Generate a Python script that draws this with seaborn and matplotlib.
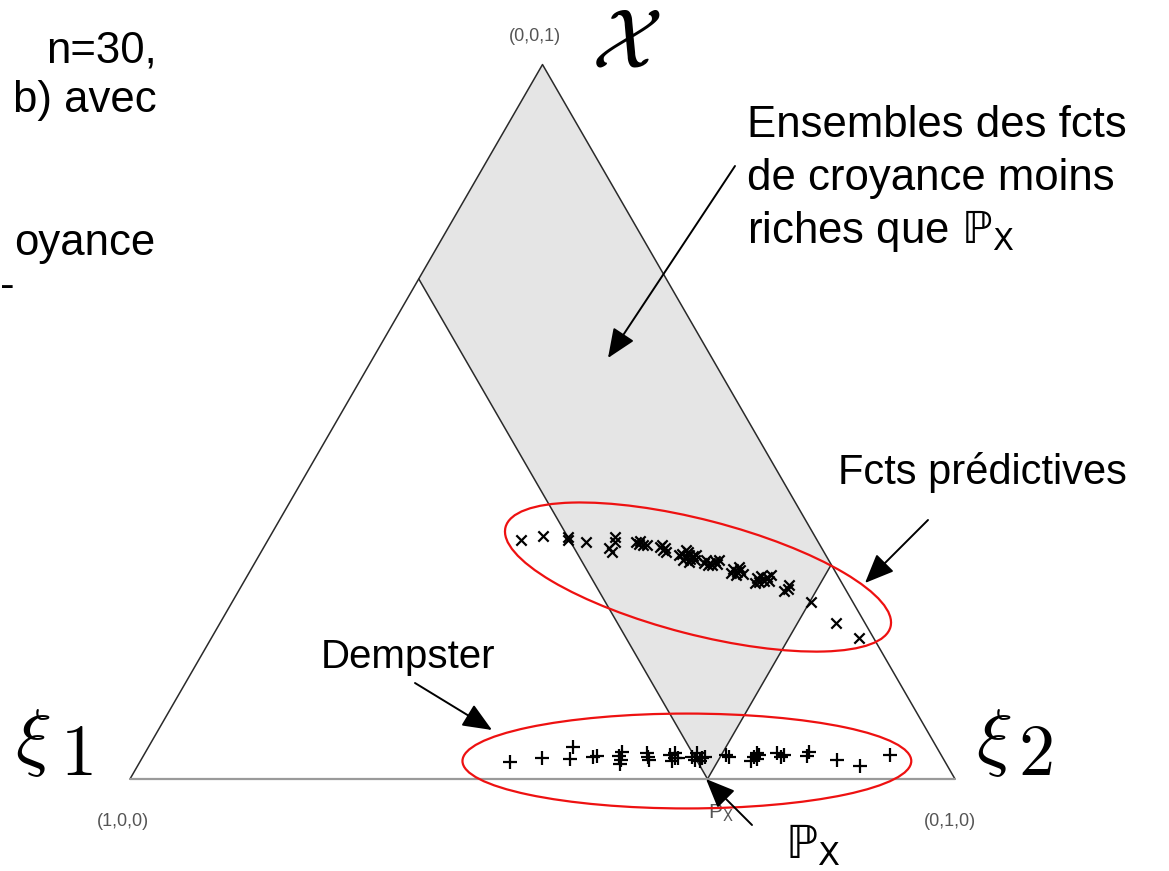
import numpy as np
import pandas as pd
import matplotlib
matplotlib.use("Agg")
import matplotlib.pyplot as plt
from matplotlib.patches import Ellipse, Polygon
from matplotlib.transforms import IdentityTransform
import seaborn as sns

# Predictive belief functions: mass on xi2 and mass on the whole frame X
pred_m2 = [0.306, 0.331, 0.363, 0.362, 0.387, 0.418, 0.422, 0.419, 0.425,
           0.447, 0.452, 0.458, 0.463, 0.453, 0.480, 0.486, 0.491, 0.481, 0.487,
           0.512, 0.518, 0.520, 0.525, 0.517, 0.526, 0.517, 0.531,
           0.509, 0.529, 0.526, 0.513,
           0.545, 0.552, 0.556, 0.556, 0.561, 0.551, 0.561, 0.545,
           0.584, 0.591, 0.593, 0.591, 0.590, 0.600, 0.585,
           0.620, 0.623, 0.630, 0.631, 0.625, 0.634, 0.621, 0.636,
           0.661, 0.663, 0.664, 0.701, 0.746, 0.785]
pred_mX = [0.335, 0.340, 0.335, 0.339, 0.332, 0.339, 0.332, 0.324, 0.318,
           0.332, 0.333, 0.328, 0.328, 0.329, 0.325, 0.321, 0.318, 0.328, 0.324,
           0.315, 0.311, 0.314, 0.308, 0.307, 0.312, 0.318, 0.307,
           0.314, 0.314, 0.304, 0.321,
           0.307, 0.302, 0.305, 0.300, 0.301, 0.300, 0.307, 0.302,
           0.294, 0.290, 0.293, 0.286, 0.297, 0.287, 0.288,
           0.281, 0.284, 0.277, 0.283, 0.276, 0.286, 0.274, 0.277,
           0.263, 0.271, 0.266, 0.248, 0.219, 0.197]

# Dempster belief functions
demp_m2 = [0.449, 0.484, 0.514, 0.519, 0.546, 0.550, 0.577, 0.582, 0.584,
           0.608, 0.612, 0.616, 0.637, 0.645, 0.649, 0.645, 0.666, 0.669,
           0.678, 0.681, 0.671, 0.706, 0.711, 0.741, 0.746, 0.746, 0.740,
           0.766, 0.774, 0.776, 0.804, 0.805, 0.844, 0.876, 0.904,
           0.577, 0.642, 0.678, 0.741]
demp_mX = [0.024, 0.030, 0.045, 0.028, 0.031, 0.032, 0.032, 0.027, 0.021,
           0.037, 0.031, 0.027, 0.034, 0.030, 0.030, 0.025, 0.031, 0.037,
           0.030, 0.031, 0.027, 0.034, 0.031, 0.031, 0.028, 0.034, 0.025,
           0.037, 0.031, 0.034, 0.038, 0.032, 0.027, 0.018, 0.034,
           0.038, 0.037, 0.025, 0.037]

# Probability P_X = (m(xi1), m(xi2), m(X))
px_mass = [0.3, 0.7, 0.0]
vertex_labels = ["(1,0,0)", "(0,1,0)", "(0,0,1)"]

W, H = 1169, 871
S = 825.0            # pixels per unit of the simplex
OX, OY = 130, 92     # pixel position of vertex (1,0,0), from bottom-left

def to_xy(m2, mX):
    m2 = np.asarray(m2, dtype=float)
    mX = np.asarray(mX, dtype=float)
    return m2 + mX / 2.0, mX * np.sqrt(3) / 2.0

sns.set_theme(style="white")
plt.rcParams["font.family"] = ["Liberation Sans", "DejaVu Sans"]
plt.rcParams["text.color"] = "black"

fig = plt.figure(figsize=(W / 100, H / 100), dpi=100)
ax = fig.add_axes([0, 0, 1, 1])
ax.set_axis_off()

# vertices of the simplex
v1 = to_xy(0.0, 0.0)
v2 = to_xy(1.0, 0.0)
v3 = to_xy(0.0, 1.0)

# belief functions less committed than P_X : m(xi1) <= p1, m(xi2) <= p2
p1, p2 = px_mass[0], px_mass[1]
region = [to_xy(0.0, 1.0), to_xy(0.0, 1.0 - p1), to_xy(p2, 0.0), to_xy(p2, 1.0 - p2)]
ax.add_patch(Polygon([(float(a), float(b)) for a, b in region], closed=True,
                     facecolor="#e5e5e5", edgecolor="none", zorder=1))

edge = "#2a2a2a"
for a, b in [(region[1], region[2]), (region[2], region[3])]:
    ax.plot([a[0], b[0]], [a[1], b[1]], color=edge, lw=1.1, zorder=2)

ax.plot([v1[0], v3[0], v2[0]], [v1[1], v3[1], v2[1]], color=edge, lw=1.1, zorder=2)
ax.plot([v1[0], v2[0]], [v1[1], v2[1]], color="#9a9a9a", lw=1.6, zorder=2)

# point clouds
px_, py_ = to_xy(pred_m2, pred_mX)
dx_, dy_ = to_xy(demp_m2, demp_mX)
pred_df = pd.DataFrame({"x": px_, "y": py_})
demp_df = pd.DataFrame({"x": dx_, "y": dy_})
sns.scatterplot(data=pred_df, x="x", y="y", marker="x", color="black",
                s=55, linewidth=1.6, ax=ax, zorder=4, legend=False)
sns.scatterplot(data=demp_df, x="x", y="y", marker="+", color="black",
                s=100, linewidth=1.6, ax=ax, zorder=4, legend=False)
ax.set_xlim(-OX / S, (W - OX) / S)
ax.set_ylim(-OY / S, (H - OY) / S)
ax.set_axis_off()

# red ellipses around the two families
ax.add_patch(Ellipse((0.6885, 0.2448), 0.482, 0.139, angle=-14.5,
                     fill=False, edgecolor="#ee1111", lw=1.6, zorder=5))
ax.add_patch(Ellipse((0.675, 0.0218), 0.544, 0.115, angle=0,
                     fill=False, edgecolor="#ee1111", lw=1.6, zorder=5))

def put(xp, ytop, s, **kw):
    ax.text(xp, H - ytop, s, transform=IdentityTransform(), **kw)

def arrow(tail, head):
    ax.annotate("", xy=(head[0], H - head[1]), xycoords="figure pixels",
                xytext=(tail[0], H - tail[1]), textcoords="figure pixels",
                arrowprops=dict(arrowstyle="-|>,head_length=0.9,head_width=0.38",
                                color="black", lw=1.4, mutation_scale=20,
                                shrinkA=0, shrinkB=0), zorder=6)

grey = "#555555"
put(123, 826, vertex_labels[0], fontsize=13, color=grey, ha="center", va="baseline")
put(950, 826, vertex_labels[1], fontsize=13, color=grey, ha="center", va="baseline")
put(535, 41, vertex_labels[2], fontsize=13, color=grey, ha="center", va="baseline")
put(708, 818, r"P$_{\mathrm{X}}$", fontsize=15, color=grey, ha="left",
    va="baseline", math_fontfamily="dejavusans")

# vertex symbols
put(15, 761, r"$\xi$", fontsize=54, ha="left", va="baseline", math_fontfamily="cm")
put(60, 775, r"$\mathrm{1}$", fontsize=52, ha="left", va="baseline", math_fontfamily="cm")
put(976, 761, r"$\xi$", fontsize=54, ha="left", va="baseline", math_fontfamily="cm")
put(1018, 775, r"$\mathrm{2}$", fontsize=52, ha="left", va="baseline", math_fontfamily="cm")
put(591, 66, r"$\mathcal{X}$", fontsize=60, ha="left", va="baseline",
    math_fontfamily="cm")

# annotations
big = 31.5
put(747, 137, "Ensembles des fcts", fontsize=big, ha="left", va="baseline")
put(747, 190, "de croyance moins", fontsize=big, ha="left", va="baseline")
put(747, 243, r"riches que $\mathrm{ℙ}_{\mathrm{X}}$", fontsize=big, ha="left",
    va="baseline", math_fontfamily="dejavusans")
put(838, 484, "Fcts prédictives", fontsize=30, ha="left", va="baseline")
put(321, 668, "Dempster", fontsize=29, ha="left", va="baseline")
put(785, 858, r"$\mathrm{ℙ}_{\mathrm{X}}$", fontsize=33, ha="left", va="baseline",
    math_fontfamily="dejavusans")

# text fragments along the left edge
put(157, 62, "n=30,", fontsize=big, ha="right", va="baseline")
put(157, 112, "b) avec", fontsize=big, ha="right", va="baseline")
put(155, 255, "oyance", fontsize=big, ha="right", va="baseline")
put(0, 298, "-", fontsize=big, ha="left", va="baseline")

arrow((735, 166), (608, 358))
arrow((928, 520), (865, 583))
arrow((415, 683), (492, 730))
arrow((752, 825), (706, 779))

fig.savefig("out.png", dpi=100)
